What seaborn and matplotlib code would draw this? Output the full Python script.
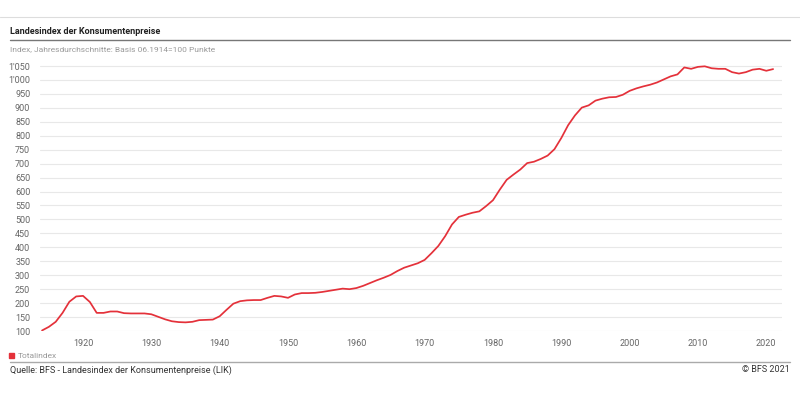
import numpy as np
import pandas as pd
import matplotlib
matplotlib.use("Agg")
import matplotlib.pyplot as plt
from matplotlib.ticker import FuncFormatter, MultipleLocator
import seaborn as sns

# data: Landesindex der Konsumentenpreise, Basis 06.1914=100
years = list(range(1914, 2022))
totalindex = [
    102, 115, 133, 165, 205, 224, 226, 204, 165, 165,   # 1914-1923
    170, 170, 164, 163, 163, 163, 160, 151, 142, 135,   # 1924-1933
    132, 131, 133, 139, 140, 141, 153, 176, 198, 207,   # 1934-1943
    210, 211, 211, 219, 226, 224, 219, 231, 236, 236,   # 1944-1953
    237, 240, 244, 248, 252, 250, 254, 262, 272, 282,   # 1954-1963
    291, 301, 315, 327, 335, 343, 355, 379, 405, 440,   # 1964-1973
    482, 509, 517, 524, 529, 548, 569, 607, 642, 661,   # 1974-1983
    679, 702, 707, 717, 729, 752, 792, 838, 873, 901,   # 1984-1993
    909, 926, 933, 938, 939, 947, 961, 970, 977, 983,   # 1994-2003
    991, 1002, 1013, 1020, 1045, 1040, 1047, 1049, 1042, 1040,  # 2004-2013
    1040, 1028, 1023, 1028, 1037, 1040, 1033, 1039,     # 2014-2021
]
x_ticks = [1920, 1930, 1940, 1950, 1960, 1970, 1980, 1990, 2000, 2010, 2020]

df = pd.DataFrame({"Jahr": years, "Totalindex": totalindex})

sns.set_style("white")
plt.rcParams['font.family'] = ['Roboto', 'DejaVu Sans']

red = "#e4313a"
grey_txt = "#666666"

fig = plt.figure(figsize=(8, 3.96), dpi=100)
ax = fig.add_axes([0.05, 0.1641, 0.9275, 0.6762])

sns.lineplot(data=df, x="Jahr", y="Totalindex", color=red, linewidth=1.25, ax=ax)

ax.set_xlim(1913.7, 2022.3)
ax.set_ylim(100, 1060)
ax.yaxis.set_major_locator(MultipleLocator(50))
ax.set_xticks(x_ticks)
ax.yaxis.set_major_formatter(FuncFormatter(lambda v, p: f"{int(v):,}".replace(",", "'")))
ax.grid(axis="y", color="#e8e8e8", linewidth=0.8)
ax.grid(axis="x", visible=False)
for s in ax.spines.values():
    s.set_visible(False)
ax.tick_params(axis="both", length=0, labelsize=6.5, labelcolor=grey_txt)
ax.tick_params(axis="x", pad=6)
ax.tick_params(axis="y", pad=7)
ax.set_xlabel("")
ax.set_ylabel("")

# header / footer decorations
fig.add_artist(plt.Line2D([0, 1], [1 - 17 / 396] * 2, color="#dddddd", linewidth=0.8))
fig.text(10 / 800, 1 - 32 / 396, "Landesindex der Konsumentenpreise", fontsize=6.5,
         fontweight="bold", color="#222222", va="center")
fig.add_artist(plt.Line2D([10 / 800, 790 / 800], [1 - 40 / 396] * 2, color="#777777", linewidth=1.0))
fig.text(10 / 800, 1 - 49 / 396, "Index, Jahresdurchschnitte: Basis 06.1914=100 Punkte", fontsize=6,
         color="#999999", va="center")

fig.patches.append(plt.Rectangle((9 / 800, 1 - 358 / 396), 5 / 800, 5 / 396, color=red,
                                 transform=fig.transFigure, figure=fig))
fig.text(18 / 800, 1 - 355.5 / 396, "Totalindex", fontsize=6, color="#999999", va="center")
fig.add_artist(plt.Line2D([10 / 800, 790 / 800], [1 - 362 / 396] * 2, color="#aaaaaa", linewidth=1.0))
fig.text(10 / 800, 1 - 370 / 396, "Quelle: BFS - Landesindex der Konsumentenpreise (LIK)", fontsize=6.5,
         color="#333333", va="center")
fig.text(790 / 800, 1 - 370 / 396, "© BFS 2021", fontsize=6.5, color="#333333", va="center", ha="right")

fig.savefig("out.png", dpi=100)
